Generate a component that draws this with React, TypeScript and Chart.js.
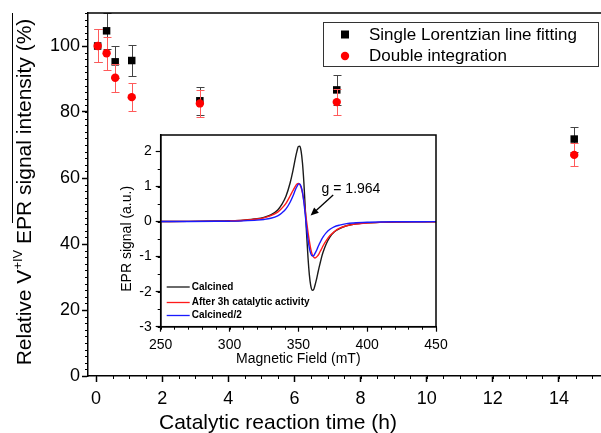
import React, { useEffect, useRef } from "react";
import { Chart, registerables } from "chart.js";

Chart.register(...registerables);

const FONT = "'Liberation Sans', Arial, Helvetica, sans-serif";

// ---------------- Main chart data ----------------
const reactionTimeH = [0.05, 0.32, 0.58, 1.08, 3.14, 7.28, 14.46];
const lorentzianPct = [100, 104.6, 95.2, 95.6, 83.4, 86.7, 71.8];
const lorentzianErr = [5, 5.5, 4.8, 4.8, 4.3, 4.5, 3.8];
const doubleIntPct = [100, 97.8, 90.4, 84.5, 82.6, 83.0, 67.0];
const doubleIntErr = [5, 5, 4.2, 4.2, 4.2, 4.0, 3.5];

const timeTicks = [0, 2, 4, 6, 8, 10, 12, 14];
const intensityTicks = [0, 20, 40, 60, 80, 100];
const legendNames = ["Single Lorentzian line fitting", "Double integration"];
const xTitle = "Catalytic reaction time (h)";
const yTitleParts = ["Relative V", "+IV", " EPR signal intensity (%)"];

// ---------------- Inset data ----------------
const fieldMT = [250, 270, 290, 300, 310, 320, 325, 330, 335, 338, 341, 344, 346, 348, 349, 350, 351, 352, 353, 354, 355, 356, 357, 358, 359, 360, 361, 362, 363, 364, 365, 366, 367, 368, 370, 373, 376, 380, 385, 390, 400, 410, 420, 435, 450];
const calcinedSignal = [0.003, 0.006, 0.014, 0.022, 0.039, 0.079, 0.12, 0.19, 0.33, 0.49, 0.72, 1.10, 1.44, 1.84, 2.01, 2.14, 2.15, 2.01, 1.67, 1.12, 0.39, -0.36, -1.02, -1.52, -1.83, -1.96, -1.95, -1.83, -1.68, -1.50, -1.32, -1.16, -1.00, -0.87, -0.66, -0.44, -0.30, -0.20, -0.12, -0.078, -0.038, -0.021, -0.013, -0.007, -0.004];
const after3hSignal = [0.003, 0.006, 0.013, 0.021, 0.037, 0.072, 0.107, 0.167, 0.27, 0.38, 0.52, 0.73, 0.88, 1.02, 1.07, 1.09, 1.06, 0.97, 0.82, 0.59, 0.31, 0, -0.30, -0.56, -0.78, -0.93, -1.01, -1.04, -1.02, -0.98, -0.92, -0.84, -0.77, -0.69, -0.56, -0.40, -0.29, -0.19, -0.12, -0.08, -0.040, -0.022, -0.014, -0.007, -0.004];
const calcinedHalfSignal = [0.002, 0.003, 0.007, 0.011, 0.02, 0.04, 0.06, 0.095, 0.165, 0.245, 0.36, 0.55, 0.72, 0.92, 1.0, 1.07, 1.075, 1.0, 0.835, 0.56, 0.195, -0.18, -0.51, -0.76, -0.915, -0.98, -0.975, -0.915, -0.84, -0.75, -0.66, -0.58, -0.50, -0.435, -0.33, -0.22, -0.15, -0.1, -0.06, -0.039, -0.019, -0.011, -0.007, -0.004, -0.002];

const fieldTicks = [250, 300, 350, 400, 450];
const signalTicks = [-3, -2, -1, 0, 1, 2];
const insetNames = ["Calcined", "After 3h catalytic activity", "Calcined/2"];
const insetColors = ["#1a1a1a", "#ff1a1a", "#1a1aff"];
const insetXTitle = "Magnetic Field (mT)";
const insetYTitle = "EPR signal (a.u.)";
const gLabel = "g = 1.964";
const gArrowFrom = { x: 375.3, y: 0.76 };
const gArrowTo = { x: 358.9, y: 0.17 };
const gTextAt = { x: 366.9, y: 0.93 };

function noPad(s: any) {
  s.paddingLeft = 0;
  s.paddingRight = 0;
  s.paddingTop = 0;
  s.paddingBottom = 0;
}

function drawMinorTicks(chart: any, xStep: number, yStep: number, len: number) {
  const { ctx, chartArea, scales } = chart;
  const xs = scales.x;
  const ys = scales.y;
  ctx.save();
  ctx.strokeStyle = "#000";
  ctx.lineWidth = 1;
  ctx.beginPath();
  for (let v = Math.ceil(xs.min / xStep) * xStep; v <= xs.max + 1e-9; v += xStep) {
    const p = Math.round(xs.getPixelForValue(v)) + 0.5;
    ctx.moveTo(p, chartArea.bottom);
    ctx.lineTo(p, chartArea.bottom + len);
  }
  for (let v = Math.ceil(ys.min / yStep) * yStep; v <= ys.max + 1e-9; v += yStep) {
    const p = Math.round(ys.getPixelForValue(v)) + 0.5;
    ctx.moveTo(chartArea.left, p);
    ctx.lineTo(chartArea.left - len, p);
  }
  ctx.stroke();
  ctx.restore();
}

const errorBars = [doubleIntErr, lorentzianErr];
const errorColors = ["#ff5a5a", "#444444"];

const errorBarPlugin = {
  id: "errorBars",
  beforeDatasetDraw(chart: any, args: any) {
    const i = args.index;
    const errs = errorBars[i];
    if (!errs) return;
    const ds = chart.data.datasets[i];
    const { ctx, chartArea, scales } = chart;
    ctx.save();
    ctx.beginPath();
    ctx.rect(chartArea.left, chartArea.top, chartArea.right - chartArea.left, chartArea.bottom - chartArea.top);
    ctx.clip();
    ctx.strokeStyle = errorColors[i];
    ctx.lineWidth = 1;
    ds.data.forEach((p: any, k: number) => {
      const px = Math.round(scales.x.getPixelForValue(p.x)) + 0.5;
      const top = Math.round(scales.y.getPixelForValue(p.y + errs[k])) + 0.5;
      const bot = Math.round(scales.y.getPixelForValue(p.y - errs[k])) + 0.5;
      ctx.beginPath();
      ctx.moveTo(px, top);
      ctx.lineTo(px, bot);
      ctx.moveTo(px - 4, top);
      ctx.lineTo(px + 4, top);
      ctx.moveTo(px - 4, bot);
      ctx.lineTo(px + 4, bot);
      ctx.stroke();
    });
    ctx.restore();
  },
};

const mainDecorPlugin = {
  id: "mainDecor",
  afterDraw(chart: any) {
    const { ctx, chartArea } = chart;
    drawMinorTicks(chart, 0.5, 2, 3);
    ctx.save();
    ctx.strokeStyle = "#000";
    ctx.lineWidth = 1.5;
    ctx.beginPath();
    ctx.moveTo(chartArea.left, chartArea.top);
    ctx.lineTo(chartArea.right, chartArea.top);
    ctx.stroke();

    // x title
    ctx.fillStyle = "#000";
    ctx.font = `21px ${FONT}`;
    ctx.textAlign = "center";
    ctx.textBaseline = "middle";
    ctx.fillText(xTitle, chartArea.left + 190, 423);

    // y title (rotated, with superscript)
    ctx.save();
    ctx.translate(25, 192);
    ctx.rotate(-Math.PI / 2);
    ctx.textAlign = "left";
    ctx.textBaseline = "middle";
    ctx.font = `21px ${FONT}`;
    const w1 = ctx.measureText(yTitleParts[0]).width;
    const w3 = ctx.measureText(yTitleParts[2]).width;
    ctx.font = `13px ${FONT}`;
    const w2 = ctx.measureText(yTitleParts[1]).width;
    const total = w1 + w2 + w3;
    let cx = -total / 2;
    ctx.font = `21px ${FONT}`;
    ctx.fillText(yTitleParts[0], cx, 0);
    cx += w1;
    ctx.font = `13px ${FONT}`;
    ctx.fillText(yTitleParts[1], cx, -7);
    cx += w2;
    ctx.font = `21px ${FONT}`;
    ctx.fillText(yTitleParts[2], cx, 0);
    ctx.restore();

    // overline
    ctx.strokeStyle = "#000";
    ctx.lineWidth = 1;
    ctx.beginPath();
    ctx.moveTo(12.5, chartArea.top);
    ctx.lineTo(12.5, 223);
    ctx.stroke();

    // legend
    const lx = 323.5, ly = 22.5, lw = 275, lh = 44;
    ctx.strokeStyle = "#333";
    ctx.lineWidth = 1;
    ctx.strokeRect(lx, ly, lw, lh);
    ctx.fillStyle = "#000";
    ctx.fillRect(341, 30.5, 8, 8);
    ctx.fillStyle = "#ff0000";
    ctx.beginPath();
    ctx.arc(345, 56, 4.2, 0, Math.PI * 2);
    ctx.fill();
    ctx.fillStyle = "#000";
    ctx.font = `17px ${FONT}`;
    ctx.textAlign = "left";
    ctx.textBaseline = "middle";
    ctx.fillText(legendNames[0], 369, 35);
    ctx.fillText(legendNames[1], 369, 56);
    ctx.restore();
  },
};

const insetDecorPlugin = {
  id: "insetDecor",
  afterDraw(chart: any) {
    const { ctx, chartArea, scales } = chart;
    drawMinorTicks(chart, 10, 0.5, 3);
    ctx.save();
    ctx.strokeStyle = "#000";
    ctx.lineWidth = 1.5;
    ctx.strokeRect(chartArea.left, chartArea.top, chartArea.right - chartArea.left, chartArea.bottom - chartArea.top);

    // titles
    ctx.fillStyle = "#000";
    ctx.font = `14px ${FONT}`;
    ctx.textAlign = "center";
    ctx.textBaseline = "middle";
    ctx.fillText(insetXTitle, (chartArea.left + chartArea.right) / 2, chartArea.bottom + 32);
    ctx.save();
    ctx.translate(15, (chartArea.top + chartArea.bottom) / 2 + 8);
    ctx.rotate(-Math.PI / 2);
    ctx.fillText(insetYTitle, 0, 0);
    ctx.restore();

    // g label + arrow
    const ax0 = scales.x.getPixelForValue(gArrowFrom.x);
    const ay0 = scales.y.getPixelForValue(gArrowFrom.y);
    const ax1 = scales.x.getPixelForValue(gArrowTo.x);
    const ay1 = scales.y.getPixelForValue(gArrowTo.y);
    const ang = Math.atan2(ay1 - ay0, ax1 - ax0);
    const head = 8;
    ctx.strokeStyle = "#000";
    ctx.lineWidth = 1.3;
    ctx.beginPath();
    ctx.moveTo(ax0, ay0);
    ctx.lineTo(ax1 - Math.cos(ang) * head * 0.8, ay1 - Math.sin(ang) * head * 0.8);
    ctx.stroke();
    ctx.fillStyle = "#000";
    ctx.beginPath();
    ctx.moveTo(ax1, ay1);
    ctx.lineTo(ax1 - head * Math.cos(ang) + 3.5 * Math.sin(ang), ay1 - head * Math.sin(ang) - 3.5 * Math.cos(ang));
    ctx.lineTo(ax1 - head * Math.cos(ang) - 3.5 * Math.sin(ang), ay1 - head * Math.sin(ang) + 3.5 * Math.cos(ang));
    ctx.closePath();
    ctx.fill();
    ctx.font = `14px ${FONT}`;
    ctx.textAlign = "left";
    ctx.textBaseline = "middle";
    ctx.fillText(gLabel, scales.x.getPixelForValue(gTextAt.x), scales.y.getPixelForValue(gTextAt.y));

    // legend
    const rows = [chartArea.top + 152, chartArea.top + 167.5, chartArea.top + 180.5];
    ctx.font = `bold 10px ${FONT}`;
    insetNames.forEach((name, i) => {
      ctx.strokeStyle = insetColors[i];
      ctx.lineWidth = 1.3;
      ctx.beginPath();
      ctx.moveTo(chartArea.left + 6, rows[i]);
      ctx.lineTo(chartArea.left + 29, rows[i]);
      ctx.stroke();
      ctx.fillStyle = "#000";
      ctx.fillText(name, chartArea.left + 31, rows[i]);
    });
    ctx.restore();
  },
};

function MainChart() {
  const ref = useRef<HTMLCanvasElement>(null);
  useEffect(() => {
    const canvas = ref.current!;
    const chart = new Chart(canvas, {
      type: "scatter",
      data: {
        datasets: [
          {
            label: legendNames[1],
            data: reactionTimeH.map((x, i) => ({ x, y: doubleIntPct[i] })),
            pointStyle: "circle",
            pointRadius: 4.2,
            backgroundColor: "#ff0000",
            borderColor: "#ff0000",
            borderWidth: 0,
          },
          {
            label: legendNames[0],
            data: reactionTimeH.map((x, i) => ({ x, y: lorentzianPct[i] })),
            pointStyle: "rect",
            pointRadius: 5.3,
            backgroundColor: "#000",
            borderColor: "#000",
            borderWidth: 0,
          },
        ],
      },
      options: {
        responsive: false,
        animation: false,
        devicePixelRatio: 1,
        events: [],
        layout: { autoPadding: false, padding: { top: 13, left: 0, right: 0, bottom: 0 } },
        plugins: { legend: { display: false }, tooltip: { enabled: false } },
        scales: {
          x: {
            type: "linear",
            min: -0.242,
            max: 15.27,
            afterFit: (s: any) => {
              s.height = 57;
              noPad(s);
            },
            afterBuildTicks: (s: any) => {
              s.ticks = timeTicks.map((v) => ({ value: v }));
            },
            ticks: {
              color: "#000",
              font: { family: FONT, size: 18 },
              padding: 6,
              maxRotation: 0,
              autoSkip: false,
              callback: (v: any) => String(v),
            },
            grid: { display: true, drawOnChartArea: false, drawTicks: true, tickLength: 6, tickWidth: 1.5, tickColor: "#000" },
            border: { display: true, color: "#000", width: 1.5 },
          },
          y: {
            type: "linear",
            min: 0,
            max: 110,
            afterFit: (s: any) => {
              s.width = 88;
              noPad(s);
            },
            afterBuildTicks: (s: any) => {
              s.ticks = intensityTicks.map((v) => ({ value: v }));
            },
            ticks: {
              color: "#000",
              font: { family: FONT, size: 18 },
              padding: 2,
              autoSkip: false,
              callback: (v: any) => String(v),
            },
            grid: { display: true, drawOnChartArea: false, drawTicks: true, tickLength: 6, tickWidth: 1.5, tickColor: "#000" },
            border: { display: true, color: "#000", width: 1.5 },
          },
        },
      } as any,
      plugins: [errorBarPlugin, mainDecorPlugin],
    });
    return () => chart.destroy();
  }, []);
  return <canvas ref={ref} width={601} height={433} style={{ position: "absolute", left: 0, top: 0, width: 601, height: 433 }} />;
}

function InsetChart() {
  const ref = useRef<HTMLCanvasElement>(null);
  useEffect(() => {
    const canvas = ref.current!;
    const series = [calcinedHalfSignal, after3hSignal, calcinedSignal];
    const colors = [insetColors[2], insetColors[1], insetColors[0]];
    const names = [insetNames[2], insetNames[1], insetNames[0]];
    const chart = new Chart(canvas, {
      type: "scatter",
      data: {
        datasets: series.map((s, k) => ({
          label: names[k],
          data: fieldMT.map((x, i) => ({ x, y: s[i] })),
          showLine: true,
          pointRadius: 0,
          borderColor: colors[k],
          borderWidth: 1.4,
          cubicInterpolationMode: "monotone",
          fill: false,
        })),
      },
      options: {
        responsive: false,
        animation: false,
        devicePixelRatio: 1,
        events: [],
        layout: { autoPadding: false, padding: { top: 7, left: 0, right: 16, bottom: 0 } },
        plugins: { legend: { display: false }, tooltip: { enabled: false } },
        scales: {
          x: {
            type: "linear",
            min: 250,
            max: 450,
            afterFit: (s: any) => {
              s.height = 43.3;
              noPad(s);
            },
            afterBuildTicks: (s: any) => {
              s.ticks = fieldTicks.map((v) => ({ value: v }));
            },
            ticks: {
              color: "#000",
              font: { family: FONT, size: 14 },
              padding: 5,
              maxRotation: 0,
              autoSkip: false,
              callback: (v: any) => String(v),
            },
            grid: { display: true, drawOnChartArea: false, drawTicks: true, tickLength: 5, tickWidth: 1.2, tickColor: "#000" },
            border: { display: true, color: "#000", width: 1.5 },
          },
          y: {
            type: "linear",
            min: -3,
            max: 2.47,
            afterFit: (s: any) => {
              s.width = 48.7;
              noPad(s);
            },
            afterBuildTicks: (s: any) => {
              s.ticks = signalTicks.map((v) => ({ value: v }));
            },
            ticks: {
              color: "#000",
              font: { family: FONT, size: 14 },
              padding: 4,
              autoSkip: false,
              callback: (v: any) => String(v),
            },
            grid: { display: true, drawOnChartArea: false, drawTicks: true, tickLength: 5, tickWidth: 1.2, tickColor: "#000" },
            border: { display: true, color: "#000", width: 1.5 },
          },
        },
      } as any,
      plugins: [insetDecorPlugin],
    });
    return () => chart.destroy();
  }, []);
  return (
    <canvas
      ref={ref}
      width={340}
      height={242}
      style={{ position: "absolute", left: 112, top: 128, width: 340, height: 242, background: "#fff" }}
    />
  );
}

export default function App() {
  return (
    <div style={{ position: "fixed", left: 0, top: 0, width: 601, height: 433, background: "#fff", overflow: "hidden" }}>
      <MainChart />
      <InsetChart />
    </div>
  );
}
